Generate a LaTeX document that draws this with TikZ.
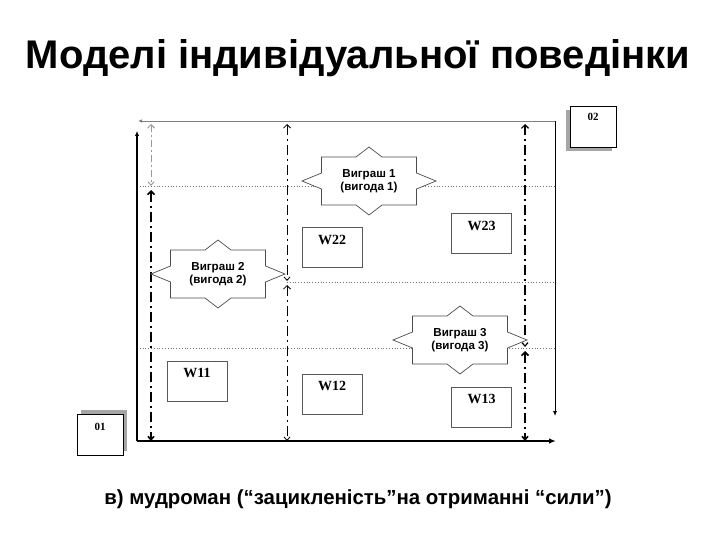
\documentclass[tikz,border=0pt]{standalone}
\usepackage{fontspec}
\setmainfont{Liberation Sans}
\newfontfamily\wserif{Liberation Serif}
\usetikzlibrary{arrows.meta,shadows}
\newcommand\winstar[4]{%
  \draw[starline] (#1-47.5,#2-24) -- (#1-13,#2-24) -- (#1,#2-34) -- (#1+13,#2-24) -- (#1+47.5,#2-24)
    -- (#1+47.5,#2-8) -- (#1+67,#2) -- (#1+47.5,#2+8) -- (#1+47.5,#2+24) -- (#1+13,#2+24)
    -- (#1,#2+34) -- (#1-13,#2+24) -- (#1-47.5,#2+24) -- (#1-47.5,#2+8) -- (#1-67,#2)
    -- (#1-47.5,#2-8) -- cycle;
  \node[startext] (#3) at (#1,#2) {#4};}
\begin{document}
\begin{tikzpicture}[x=1pt,y=-1pt,
  axis/.style={line width=1.6pt},
  thinaxis/.style={line width=0.8pt},
  gridline/.style={black!55, dotted, line width=0.8pt},
  ddthick/.style={line width=1.6pt, dash pattern=on 10pt off 4pt on 2pt off 4pt},
  ddmid/.style={line width=1.2pt, dash pattern=on 10pt off 4pt on 2pt off 4pt},
  ddthin/.style={line width=0.8pt, dash pattern=on 10pt off 4pt on 2pt off 4pt},
  ddgray/.style={black!40, line width=1pt, dash pattern=on 7pt off 3pt on 2pt off 3pt},
  bothtips/.style={{Straight Barb[length=3.5pt,width=7pt]}-{Straight Barb[length=3.5pt,width=6pt]}},
  starline/.style={draw=black!70, fill=white, line width=0.7pt},
  startext/.style={font=\bfseries\fontsize{11.6}{13.5}\selectfont, align=center, inner sep=0pt},
  wbox/.style={draw=black!65, fill=white, line width=0.6pt, minimum width=60pt, minimum height=40pt, inner sep=0pt},
  wlab/.style={font=\wserif\bfseries\fontsize{14}{14}\selectfont, inner sep=0pt, anchor=north},
  obox/.style={draw=black, fill=white, line width=0.6pt, minimum width=46pt, minimum height=41pt, inner sep=0pt},
  olab/.style={font=\wserif\bfseries\fontsize{11}{11}\selectfont, inner sep=0pt, anchor=north}
]
\useasboundingbox (0,0) rectangle (720,540);

% title and caption
\node[font=\bfseries\fontsize{40}{40}\selectfont, anchor=base] (title) at (358,69) {Моделі індивідуальної поведінки};
\node[font=\bfseries\fontsize{20.4}{20.4}\selectfont, anchor=base] (caption) at (358,504) {в) мудроман (“зацикленість”на отриманні “сили”)};

% coordinates
\coordinate (O) at (137,441);
\coordinate (Ytop) at (137,131);
\coordinate (Xend) at (556,441);
\coordinate (TR) at (555,121);
\coordinate (TL) at (138,121);
\coordinate (Rend) at (555,416);
\coordinate (g1l) at (137,186); \coordinate (g1r) at (555,186);
\coordinate (g2l) at (287,282); \coordinate (g2r) at (555,282);
\coordinate (g3l) at (137,348); \coordinate (g3r) at (555,348);

% dotted grid lines
\draw[gridline] (g1l) -- (g1r);
\draw[gridline] (g2l) -- (g2r);
\draw[gridline] (g3l) -- (g3r);

% vertical dash-dot segments
\coordinate (a1) at (151,124); \coordinate (a2) at (151,186);
\coordinate (a3) at (151,190); \coordinate (a4) at (151,441);
\coordinate (b1) at (287,124); \coordinate (b2) at (287,281);
\coordinate (b3) at (287,285); \coordinate (b4) at (287,441);
\coordinate (c1) at (525,124); \coordinate (c2) at (525,347);
\coordinate (c3) at (525,351); \coordinate (c4) at (525,441);
\draw[ddgray, bothtips] (a1) -- (a2);
\draw[ddthick, bothtips] (a3) -- (a4);
\draw[ddthin, bothtips] (b1) -- (b2);
\draw[ddthin, bothtips] (b3) -- (b4);
\draw[ddmid, bothtips] (c1) -- (c2);
\draw[ddthick, bothtips] (c3) -- (c4);

% stars
\winstar{369}{181}{s1}{Виграш 1\\(вигода 1)}
\winstar{218}{274}{s2}{Виграш 2\\(вигода 2)}
\winstar{460}{340}{s3}{Виграш 3\\(вигода 3)}

% W boxes
\node[wbox] (w22) at (332,247) {};
\node[wlab] (w22t) at ([yshift=-8pt]w22.north) {W22};
\node[wbox] (w23) at (481.5,233.5) {};
\node[wlab] (w23t) at ([yshift=-8pt]w23.north) {W23};
\node[wbox] (w11) at (197,381) {};
\node[wlab] (w11t) at ([yshift=-7pt]w11.north) {W11};
\node[wbox] (w12) at (332,394) {};
\node[wlab] (w12t) at ([yshift=-7pt]w12.north) {W12};
\node[wbox] (w13) at (481.5,407) {};
\node[wlab] (w13t) at ([yshift=-7pt]w13.north) {W13};

% 01 / 02 boxes
\node[obox, general shadow={fill=black!35, draw=none, shadow xshift=4pt, shadow yshift=4pt}] (o1) at (100,434.5) {};
\node[olab] (o1t) at ([yshift=-9pt]o1.north) {01};
\node[obox, general shadow={fill=black!35, draw=none, shadow xshift=-4pt, shadow yshift=-4pt}] (o2) at (593,127) {};
\node[olab] (o2t) at ([yshift=-7pt]o2.north) {02};

% axes
\draw[gray, line width=0.8pt, -{Latex[length=4pt,width=3.5pt]}] (TR) -- (TL);
\draw[thinaxis, -{Latex[length=5pt,width=4pt]}] (TR) -- (Rend);
\draw[axis, -{Latex[length=5pt,width=4.5pt]}] (O) -- (Ytop);
\draw[axis, -{Latex[length=7pt,width=5.5pt]}] (O) -- (Xend);
\end{tikzpicture}
\end{document}
